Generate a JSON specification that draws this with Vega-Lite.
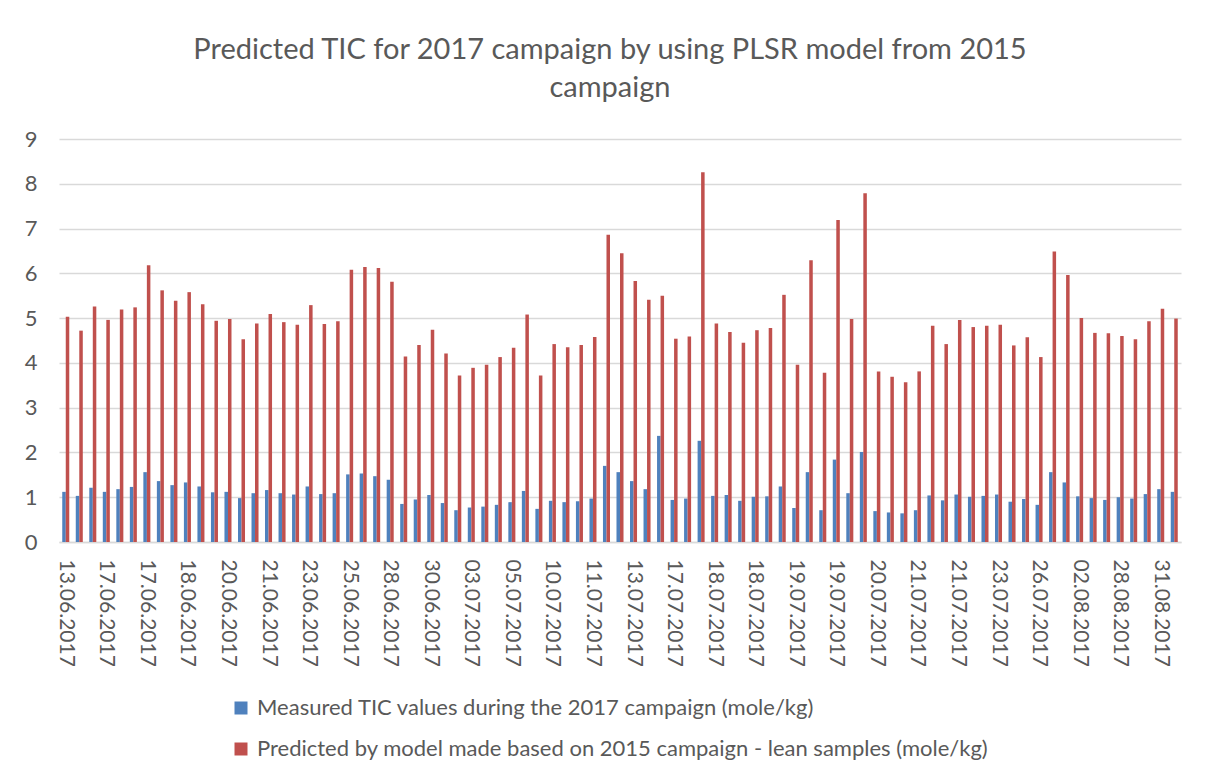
{
  "$schema": "https://vega.github.io/schema/vega-lite/v6.json",
  "width": 1122,
  "height": 403,
  "autosize": {"type": "none"},
  "padding": {"left": 59, "top": 139, "right": 24, "bottom": 238},
  "background": "white",
  "title": {
    "text": ["Predicted TIC for 2017 campaign by using PLSR model from 2015", "campaign"],
    "font": "Lato",
    "fontSize": 29,
    "fontWeight": "normal",
    "color": "#595959",
    "anchor": "middle",
    "lineHeight": 38,
    "offset": 25,
    "dx": -10
  },
  "data": {
    "values": [
      {"n":1,"m":1.12,"p":5.03},{"n":2,"m":1.03,"p":4.72},{"n":3,"m":1.21,"p":5.26},{"n":4,"m":1.12,"p":4.96},
      {"n":5,"m":1.18,"p":5.19},{"n":6,"m":1.23,"p":5.24},{"n":7,"m":1.56,"p":6.18},{"n":8,"m":1.36,"p":5.62},
      {"n":9,"m":1.27,"p":5.39},{"n":10,"m":1.33,"p":5.58},{"n":11,"m":1.24,"p":5.31},{"n":12,"m":1.11,"p":4.94},
      {"n":13,"m":1.12,"p":4.98},{"n":14,"m":0.98,"p":4.53},{"n":15,"m":1.09,"p":4.88},{"n":16,"m":1.16,"p":5.09},
      {"n":17,"m":1.09,"p":4.91},{"n":18,"m":1.06,"p":4.85},{"n":19,"m":1.24,"p":5.29},{"n":20,"m":1.07,"p":4.87},
      {"n":21,"m":1.09,"p":4.93},{"n":22,"m":1.51,"p":6.08},{"n":23,"m":1.53,"p":6.14},{"n":24,"m":1.47,"p":6.12},
      {"n":25,"m":1.39,"p":5.81},{"n":26,"m":0.85,"p":4.14},{"n":27,"m":0.95,"p":4.40},{"n":28,"m":1.05,"p":4.74},
      {"n":29,"m":0.87,"p":4.21},{"n":30,"m":0.71,"p":3.72},{"n":31,"m":0.77,"p":3.89},{"n":32,"m":0.79,"p":3.96},
      {"n":33,"m":0.83,"p":4.13},{"n":34,"m":0.89,"p":4.34},{"n":35,"m":1.14,"p":5.08},{"n":36,"m":0.74,"p":3.72},
      {"n":37,"m":0.92,"p":4.42},{"n":38,"m":0.89,"p":4.35},{"n":39,"m":0.91,"p":4.40},{"n":40,"m":0.97,"p":4.58},
      {"n":41,"m":1.70,"p":6.86},{"n":42,"m":1.56,"p":6.45},{"n":43,"m":1.36,"p":5.83},{"n":44,"m":1.18,"p":5.41},
      {"n":45,"m":2.37,"p":5.50},{"n":46,"m":0.94,"p":4.54},{"n":47,"m":0.97,"p":4.59},{"n":48,"m":2.26,"p":8.26},
      {"n":49,"m":1.03,"p":4.88},{"n":50,"m":1.05,"p":4.69},{"n":51,"m":0.92,"p":4.45},{"n":52,"m":1.01,"p":4.73},
      {"n":53,"m":1.02,"p":4.78},{"n":54,"m":1.24,"p":5.52},{"n":55,"m":0.76,"p":3.96},{"n":56,"m":1.56,"p":6.29},
      {"n":57,"m":0.71,"p":3.78},{"n":58,"m":1.84,"p":7.19},{"n":59,"m":1.09,"p":4.98},{"n":60,"m":2.01,"p":7.79},
      {"n":61,"m":0.69,"p":3.81},{"n":62,"m":0.66,"p":3.69},{"n":63,"m":0.64,"p":3.57},{"n":64,"m":0.71,"p":3.81},
      {"n":65,"m":1.04,"p":4.83},{"n":66,"m":0.93,"p":4.42},{"n":67,"m":1.06,"p":4.96},{"n":68,"m":1.01,"p":4.80},
      {"n":69,"m":1.03,"p":4.83},{"n":70,"m":1.06,"p":4.85},{"n":71,"m":0.90,"p":4.39},{"n":72,"m":0.96,"p":4.57},
      {"n":73,"m":0.83,"p":4.13},{"n":74,"m":1.56,"p":6.49},{"n":75,"m":1.33,"p":5.96},{"n":76,"m":1.02,"p":5.00},
      {"n":77,"m":0.98,"p":4.67},{"n":78,"m":0.94,"p":4.66},{"n":79,"m":1.00,"p":4.60},{"n":80,"m":0.97,"p":4.53},
      {"n":81,"m":1.07,"p":4.93},{"n":82,"m":1.18,"p":5.21},{"n":83,"m":1.12,"p":4.99}
    ]
  },
  "transform": [{"fold": ["m", "p"], "as": ["series", "value"]}],
  "mark": {"type": "bar"},
  "encoding": {
    "x": {
      "field": "n",
      "type": "ordinal",
      "scale": {"paddingInner": 0.48, "paddingOuter": 0.24},
      "axis": {
        "title": null,
        "values": [1,4,7,10,13,16,19,22,25,28,31,34,37,40,43,46,49,52,55,58,61,64,67,70,73,76,79,82],
        "labelExpr": "['13.06.2017','17.06.2017','17.06.2017','18.06.2017','20.06.2017','21.06.2017','23.06.2017','25.06.2017','28.06.2017','30.06.2017','03.07.2017','05.07.2017','10.07.2017','11.07.2017','13.07.2017','17.07.2017','18.07.2017','18.07.2017','19.07.2017','19.07.2017','20.07.2017','21.07.2017','21.07.2017','23.07.2017','26.07.2017','02.08.2017','28.08.2017','31.08.2017'][floor((datum.value - 1) / 3)]",
        "labelAngle": 90,
        "labelFont": "Lato",
        "labelFontSize": 21,
        "labelColor": "#595959",
        "labelPadding": 17,
        "ticks": false,
        "domainColor": "#d9d9d9",
        "domainWidth": 1.5,
        "labelOverlap": false
      }
    },
    "xOffset": {"field": "series", "type": "nominal", "scale": {"domain": ["m", "p"], "paddingInner": 0, "paddingOuter": 0}},
    "y": {
      "field": "value",
      "type": "quantitative",
      "scale": {"domain": [0, 9], "nice": false},
      "axis": {
        "title": null,
        "values": [0,1,2,3,4,5,6,7,8,9],
        "labelFont": "Lato",
        "labelFontSize": 22,
        "labelColor": "#595959",
        "labelPadding": 22,
        "ticks": false,
        "domain": false,
        "gridColor": "#d9d9d9",
        "gridWidth": 1.5
      }
    },
    "color": {
      "field": "series",
      "type": "nominal",
      "scale": {"domain": ["m", "p"], "range": ["#4f81bd", "#c0504d"]},
      "legend": {
        "title": null,
        "orient": "none",
        "legendX": 171,
        "legendY": 558,
        "direction": "vertical",
        "symbolType": "square",
        "symbolSize": 169,
        "symbolStrokeWidth": 0,
        "labelFont": "Lato",
        "labelFontSize": 22,
        "labelColor": "#595959",
        "labelOffset": 5,
        "labelLimit": 1000,
        "rowPadding": 19,
        "labelExpr": "datum.value == 'm' ? 'Measured TIC values during the 2017 campaign (mole/kg)' : 'Predicted by model made based on 2015 campaign - lean samples (mole/kg)'"
      }
    }
  },
  "config": {"view": {"stroke": null}}
}
